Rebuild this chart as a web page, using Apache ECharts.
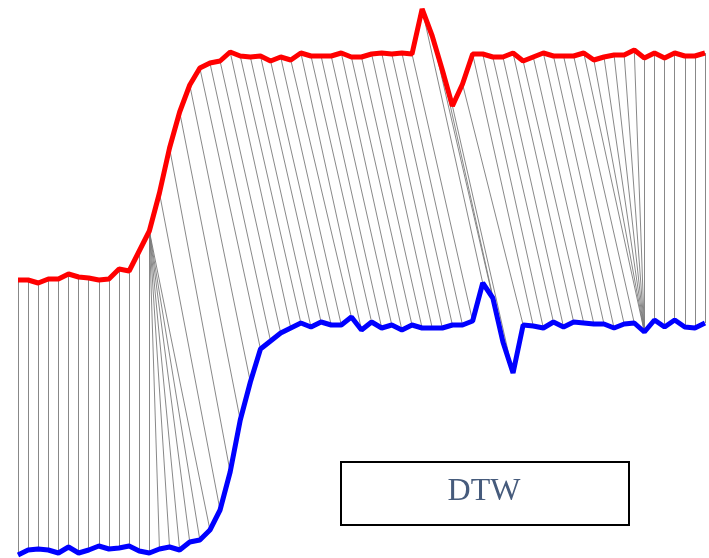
<!DOCTYPE html>
<html>
<head>
<meta charset="utf-8">
<script src="https://cdn.jsdelivr.net/npm/echarts@6/dist/echarts.min.js"></script>
<style>
html,body{margin:0;padding:0;background:#fff;}
#chart{width:709px;height:558px;}
</style>
</head>
<body>
<div id="chart"></div>
<script>
// sample index (shared time axis)
const sampleIdx = Array.from({length: 69}, (_, i) => i);

// red series (upper signal)
const redSeries = [278,278,275,279,279,284,281,280,278,279,289,287,307,327,365,410,446,473,490,495,
  497,506,502,501,502,497,501,498,505,502,502,502,505,501,501,504,505,504,505,504,
  549,522,488,452,474,504,504,501,501,505,497,501,505,502,502,502,505,498,501,503,
  503,508,500,505,500,505,502,502,505];

// blue series (lower signal)
const blueSeries = [3,8,9,8,5,11,5,8,12,9,10,12,7,5,9,11,8,16,18,28,
  48,86,138,176,209,217,225,230,235,231,236,233,233,241,228,236,230,233,228,233,
  230,230,230,233,233,237,275,260,216,185,233,232,230,236,231,236,235,234,234,230,
  234,235,226,238,231,238,231,230,235];

// DTW warping path: [red index, blue index]
const warpPath = [
  [0,0],[1,1],[2,2],[3,3],[4,4],[5,5],[6,6],[7,7],[8,8],[9,9],[10,10],[11,11],[12,12],
  [13,13],[13,14],[13,15],[13,16],[13,17],[13,18],[13,19],
  [14,20],[15,21],[16,22],[17,23],[18,24],[19,25],[20,26],[21,27],[22,28],[23,29],
  [24,30],[25,31],[26,32],[27,33],[28,34],[29,35],[30,36],[31,37],[32,38],[33,39],
  [34,40],[35,41],[36,42],[37,43],[38,44],[39,45],[40,46],[41,47],[42,48],[43,49],
  [44,50],[45,51],[46,52],[47,53],[48,54],[49,55],[50,56],[51,57],[52,58],[53,59],
  [54,60],[55,61],[56,62],[57,62],[58,62],[59,62],[60,62],[61,62],[62,62],
  [63,63],[64,64],[65,65],[66,66],[67,67],[68,68]
];

const boxLabel = 'DTW';

const chart = echarts.init(document.getElementById('chart'));
chart.setOption({
  animation: false,
  backgroundColor: '#ffffff',
  grid: {left: 18, right: 4, top: 0, bottom: 0},
  xAxis: {type: 'value', min: 0, max: sampleIdx.length - 1, show: false},
  yAxis: {type: 'value', min: 0, max: 558, show: false},
  series: [
    {
      type: 'lines',
      coordinateSystem: 'cartesian2d',
      silent: true,
      z: 1,
      lineStyle: {color: '#7a7a7a', width: 0.9, opacity: 1},
      data: warpPath.map(p => ({coords: [[sampleIdx[p[0]], redSeries[p[0]]], [sampleIdx[p[1]], blueSeries[p[1]]]]}))
    },
    {
      type: 'line',
      z: 3,
      showSymbol: false,
      data: sampleIdx.map(i => [i, redSeries[i]]),
      lineStyle: {color: '#ff0000', width: 5}
    },
    {
      type: 'line',
      z: 3,
      showSymbol: false,
      data: sampleIdx.map(i => [i, blueSeries[i]]),
      lineStyle: {color: '#0000ff', width: 5}
    }
  ],
  graphic: [
    {
      type: 'rect',
      left: 340, top: 461,
      shape: {width: 288, height: 63},
      style: {fill: '#ffffff', stroke: '#000000', lineWidth: 2},
      z: 10
    },
    {
      type: 'text',
      x: 484, y: 492,
      style: {
        text: boxLabel,
        font: '32px "Liberation Serif", "Times New Roman", serif',
        fill: '#465b7c',
        align: 'center',
        verticalAlign: 'middle'
      },
      z: 11
    }
  ]
});
</script>
</body>
</html>
